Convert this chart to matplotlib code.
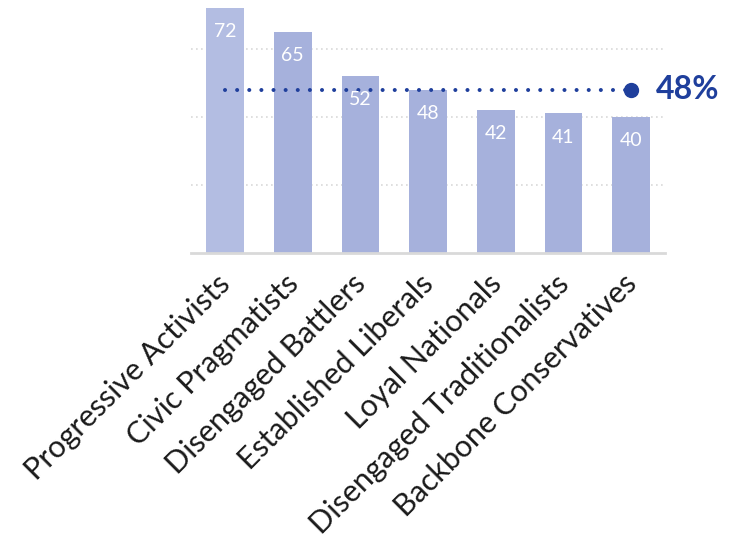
import numpy as np
import matplotlib.pyplot as plt
import matplotlib.transforms as mtransforms

segments = ['Progressive Activists', 'Civic Pragmatists', 'Disengaged Battlers',
            'Established Liberals', 'Loyal Nationals', 'Disengaged Traditionalists',
            'Backbone Conservatives']
values = [72, 65, 52, 48, 42, 41, 40]
average = 48

bar_colors = ['#b3bde2'] + ['#a6b1dc'] * 6
line_color = '#1f3f9c'

plt.rcParams['font.family'] = ['Lato', 'DejaVu Sans']

fig = plt.figure(figsize=(7.3, 5.51), dpi=100, facecolor='white')
ax = fig.add_axes([0.262, 0.541, 0.649, 0.459])

x = np.arange(len(segments))
bars = ax.bar(x, values, width=0.56, color=bar_colors, zorder=2)

for xi, v in zip(x, values):
    ax.annotate(str(v), (xi, v), xytext=(0, -24), textcoords='offset pixels',
                ha='center', va='center', color='white', fontsize=14, zorder=4)

# average line
ax.plot([x[0], x[-1]], [average, average], color=line_color, linewidth=2.9,
        linestyle=(0, (0.01, 3.0)), dash_capstyle='round', zorder=3)
ax.plot([x[-1]], [average], 'o', color=line_color, markersize=10, zorder=3)
ax.annotate(f'{average}%', (x[-1], average), xytext=(25, 0), textcoords='offset pixels',
            ha='left', va='center', color=line_color, fontsize=23, fontweight='bold')

ax.set_xlim(-0.5, len(segments) - 0.5)
ax.set_ylim(0, 74.3)
ax.set_yticks([20, 40, 60])
ax.yaxis.grid(True, color='#d9d9d9', linestyle=(0, (1, 2)), linewidth=1.2, zorder=0)
ax.tick_params(axis='y', left=False, labelleft=False)
ax.tick_params(axis='x', length=0, pad=12)
ax.set_xticks(x)
ax.set_xticklabels(segments, rotation=45, ha='right', rotation_mode='anchor',
                   fontsize=22, color='#1a1a1a')
shift = mtransforms.ScaledTranslation(-9 / 100, 0, fig.dpi_scale_trans)
for lbl in ax.get_xticklabels():
    lbl.set_transform(lbl.get_transform() + shift)

for s in ['top', 'right', 'left']:
    ax.spines[s].set_visible(False)
ax.spines['bottom'].set_color('#d9d9d9')
ax.spines['bottom'].set_linewidth(2)

plt.savefig('out.png', dpi=100, facecolor='white')
